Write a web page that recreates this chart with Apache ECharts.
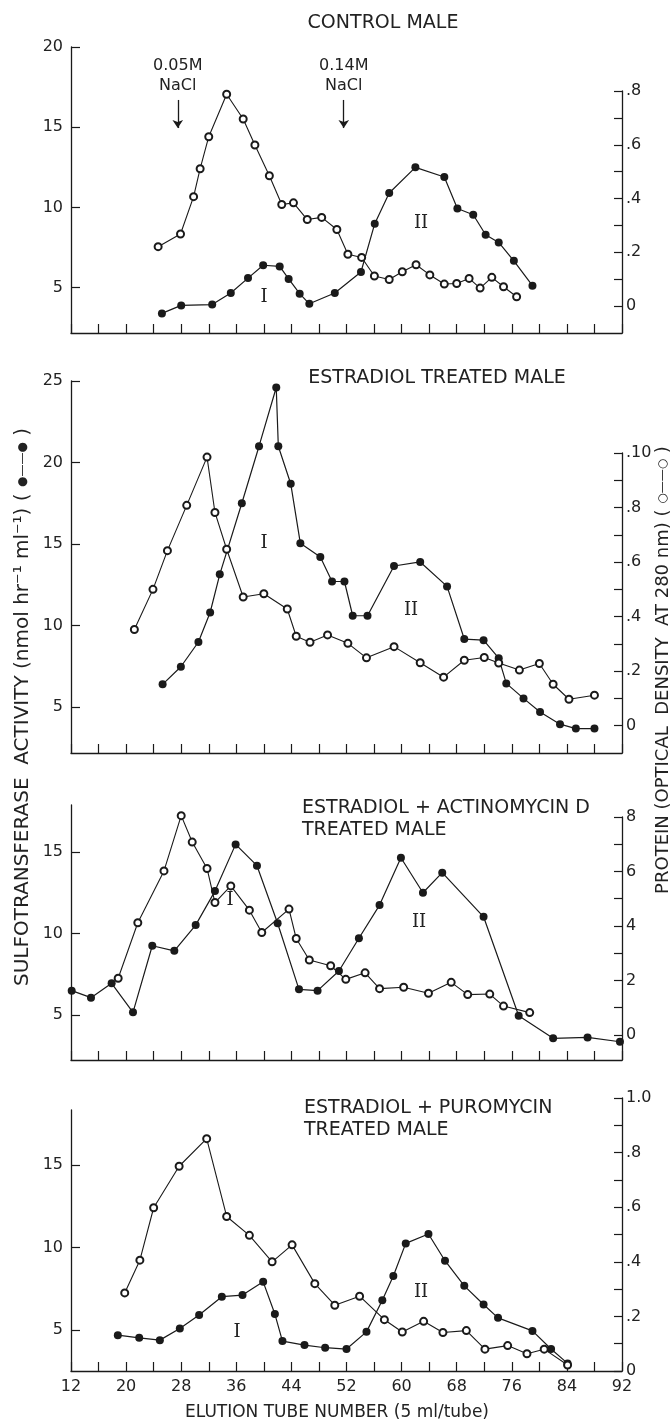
<!DOCTYPE html>
<html>
<head>
<meta charset="utf-8">
<script src="https://cdn.jsdelivr.net/npm/echarts@6/dist/echarts.min.js"></script>
<style>
  html, body { margin: 0; padding: 0; background: #fff; }
  #chart { width: 672px; height: 1424px; }
</style>
</head>
<body>
<div id="chart"></div>
<script>
// ---- data (tube number / value) ----
const tubeLabels = [12, 20, 28, 36, 44, 52, 60, 68, 76, 84, 92];

// control male
const ctrlSulfoTube = [25.2, 28.0, 32.5, 35.2, 37.7, 39.9, 42.3, 43.6, 45.2, 46.6, 50.3, 54.1, 56.1, 58.2, 62.0, 66.2, 68.1, 70.4, 72.2, 74.1, 76.3, 79.0];
const ctrlSulfo     = [3.4, 3.9, 3.95, 4.67, 5.6, 6.4, 6.33, 5.55, 4.63, 4.0, 4.67, 5.98, 8.99, 10.9, 12.5, 11.9, 9.94, 9.55, 8.3, 7.82, 6.68, 5.13];
const ctrlProtTube  = [24.65, 27.9, 29.8, 30.75, 32.0, 34.6, 37.0, 38.7, 40.8, 42.6, 44.3, 46.3, 48.4, 50.6, 52.2, 54.2, 56.05, 58.2, 60.1, 62.1, 64.1, 66.2, 68.0, 69.8, 71.4, 73.1, 74.8, 76.7];
const ctrlProt      = [0.221, 0.268, 0.407, 0.511, 0.630, 0.788, 0.696, 0.599, 0.485, 0.378, 0.384, 0.322, 0.330, 0.285, 0.193, 0.181, 0.112, 0.099, 0.128, 0.154, 0.116, 0.082, 0.084, 0.103, 0.067, 0.107, 0.072, 0.035];

// estradiol treated male
const estSulfoTube = [25.3, 27.95, 30.5, 32.2, 33.6, 36.8, 39.3, 41.8, 42.1, 43.9, 45.3, 48.2, 49.9, 51.7, 52.9, 55.05, 58.9, 62.7, 66.6, 69.1, 71.9, 74.1, 75.2, 77.7, 80.1, 83.0, 85.3, 88.0];
const estSulfo     = [6.39, 7.47, 8.99, 10.8, 13.14, 17.5, 21.0, 24.6, 21.0, 18.7, 15.04, 14.2, 12.7, 12.7, 10.6, 10.6, 13.65, 13.9, 12.4, 9.17, 9.1, 8.0, 6.45, 5.53, 4.7, 3.95, 3.68, 3.68];
const estProtTube  = [21.2, 23.9, 26.0, 28.8, 31.75, 32.9, 34.6, 37.0, 40.0, 43.4, 44.7, 46.7, 49.25, 52.2, 54.9, 58.9, 62.7, 66.1, 69.1, 72.0, 74.1, 77.1, 80.0, 82.0, 84.3, 88.0];
const estProt      = [0.353, 0.500, 0.642, 0.808, 0.985, 0.782, 0.647, 0.472, 0.484, 0.428, 0.328, 0.306, 0.333, 0.302, 0.249, 0.290, 0.231, 0.178, 0.24, 0.25, 0.23, 0.204, 0.228, 0.152, 0.097, 0.112];

// estradiol + actinomycin D
const actSulfoTube = [12.1, 14.9, 17.9, 21.0, 23.8, 27.0, 30.1, 32.9, 35.9, 39.0, 42.0, 45.1, 47.8, 50.9, 53.8, 56.8, 59.9, 63.1, 65.9, 71.9, 77.0, 82.0, 87.0, 91.7];
const actSulfo     = [6.48, 6.05, 6.93, 5.15, 9.24, 8.93, 10.51, 12.6, 15.47, 14.16, 10.62, 6.56, 6.48, 7.69, 9.7, 11.74, 14.65, 12.5, 13.73, 11.02, 4.94, 3.55, 3.61, 3.34];
const actProtTube  = [18.85, 21.7, 25.5, 28.0, 29.6, 31.75, 32.9, 35.2, 37.9, 39.7, 43.65, 44.7, 46.6, 49.7, 51.9, 54.7, 56.8, 60.3, 63.9, 67.2, 69.6, 72.8, 74.8, 78.6];
const actProt      = [2.08, 4.12, 6.02, 8.05, 7.08, 6.11, 4.86, 5.47, 4.58, 3.76, 4.62, 3.54, 2.75, 2.54, 2.04, 2.28, 1.70, 1.75, 1.53, 1.93, 1.48, 1.50, 1.06, 0.82];

// estradiol + puromycin
const puroSulfoTube = [18.8, 21.9, 24.9, 27.8, 30.6, 33.9, 36.9, 39.9, 41.6, 42.7, 45.9, 48.9, 52.0, 54.9, 57.2, 58.8, 60.6, 63.9, 66.3, 69.1, 71.9, 74.0, 79.0, 81.7, 84.1];
const puroSulfo     = [4.69, 4.53, 4.39, 5.10, 5.91, 7.02, 7.12, 7.92, 5.97, 4.33, 4.09, 3.93, 3.85, 4.89, 6.81, 8.27, 10.25, 10.82, 9.20, 7.68, 6.55, 5.74, 4.95, 3.85, 2.98];
const puroProtTube  = [19.8, 22.0, 24.0, 27.7, 31.7, 34.6, 37.9, 41.2, 44.1, 47.4, 50.3, 53.9, 57.5, 60.1, 63.2, 66.0, 69.4, 72.1, 75.4, 78.2, 80.7, 84.1];
const puroProt      = [0.286, 0.406, 0.598, 0.750, 0.851, 0.566, 0.497, 0.400, 0.462, 0.320, 0.241, 0.274, 0.188, 0.143, 0.182, 0.141, 0.148, 0.080, 0.093, 0.063, 0.080, 0.022];

// axis ticks and labels
const sulfoTicks = [[5, 10, 15, 20], [5, 10, 15, 20, 25], [5, 10, 15], [5, 10, 15]];
const protTicks = [
  [0, 0.1, 0.2, 0.3, 0.4, 0.5, 0.6, 0.7, 0.8],
  [0, 0.1, 0.2, 0.3, 0.4, 0.5, 0.6, 0.7, 0.8, 0.9, 1.0],
  [0, 1, 2, 3, 4, 5, 6, 7, 8],
  [0, 0.1, 0.2, 0.3, 0.4, 0.5, 0.6, 0.7, 0.8, 0.9, 1.0]
];
const protLabelVals = [[0, 0.2, 0.4, 0.6, 0.8], [0, 0.2, 0.4, 0.6, 0.8, 1.0], [0, 2, 4, 6, 8], [0, 0.2, 0.4, 0.6, 0.8, 1.0]];
const protLabelText = [['0', '.2', '.4', '.6', '.8'], ['0', '.2', '.4', '.6', '.8', '.10'], ['0', '2', '4', '6', '8'], ['0', '.2', '.4', '.6', '.8', '1.0']];

const panelTitles = ['CONTROL MALE', 'ESTRADIOL TREATED MALE', 'ESTRADIOL + ACTINOMYCIN D\nTREATED MALE', 'ESTRADIOL + PUROMYCIN\nTREATED MALE'];

// NaCl step annotations on control panel (tube, arrow top, arrow bottom in activity units)
const saltTubes = [27.5, 51.6];
const saltText = ['0.05M\nNaCl', '0.14M\nNaCl'];
const arrowFrom = 16.7, arrowTo = 14.95;

const sulfoSets = [[ctrlSulfoTube, ctrlSulfo], [estSulfoTube, estSulfo], [actSulfoTube, actSulfo], [puroSulfoTube, puroSulfo]];
const protSets = [[ctrlProtTube, ctrlProt], [estProtTube, estProt], [actProtTube, actProt], [puroProtTube, puroProt]];

function zip(xs, ys) { return xs.map((x, i) => [x, ys[i]]); }

// ---- layout ----
const INK = '#1a1a1a';
const FONT = 'DejaVu Sans';
const gl = 71, gr = 50;
const layout = [
  { sTop: 47,   pTop: 91,   base: 333,  sMin: 2.18, sMax: 20,    pMin: -0.1,  pMax: 0.8, title: { left: 383, top: 12, align: 'center' }, num: [[264, 297], [421, 223]] },
  { sTop: 381,  pTop: 453,  base: 753,  sMin: 2.18, sMax: 25,    pMin: -0.1,  pMax: 1.0, title: { left: 437, top: 367, align: 'center' }, num: [[264, 543], [411, 610]] },
  { sTop: 805,  pTop: 817,  base: 1060, sMin: 2.22, sMax: 17.89, pMin: -0.92, pMax: 8,   title: { left: 302, top: 797, align: 'left' }, num: [[230, 900], [419, 922]] },
  { sTop: 1110, pTop: 1098, base: 1371, sMin: 2.52, sMax: 18.33, pMin: 0,     pMax: 1.0, title: { left: 304, top: 1097, align: 'left' }, num: [[237, 1332], [421, 1292]] }
];

const chart = echarts.init(document.getElementById('chart'));
const grid = [], xAxis = [], yAxis = [], series = [], title = [], graphic = [];
const H = 1424;

layout.forEach(function (p, i) {
  grid.push({ left: gl, right: gr, top: p.sTop, bottom: H - p.base });
  grid.push({ left: gl, right: gr, top: p.pTop, bottom: H - p.base });

  const last = i === layout.length - 1;
  xAxis.push({
    gridIndex: 2 * i, type: 'value', min: 12, max: 92, interval: 4,
    axisLine: { show: true, lineStyle: { color: INK, width: 1.3 } },
    axisTick: { show: true, inside: true, length: 9, lineStyle: { color: INK, width: 1.2 } },
    axisLabel: { show: last, customValues: tubeLabels, fontSize: 16, color: '#222', margin: 8, fontFamily: FONT },
    splitLine: { show: false }
  });
  xAxis.push({ gridIndex: 2 * i + 1, type: 'value', min: 12, max: 92, show: false });

  yAxis.push({
    gridIndex: 2 * i, type: 'value', min: p.sMin, max: p.sMax, position: 'left',
    axisLine: { show: true, lineStyle: { color: INK, width: 1.3 } },
    axisTick: { show: true, inside: true, length: 9, customValues: sulfoTicks[i], lineStyle: { color: INK, width: 1.2 } },
    axisLabel: { customValues: sulfoTicks[i], fontSize: 16, color: '#222', margin: 8, fontFamily: FONT },
    splitLine: { show: false }
  });
  const lv = protLabelVals[i], lt = protLabelText[i];
  yAxis.push({
    gridIndex: 2 * i + 1, type: 'value', min: p.pMin, max: p.pMax, position: 'right',
    axisLine: { show: true, lineStyle: { color: INK, width: 1.3 } },
    axisTick: { show: true, inside: true, length: 8, customValues: protTicks[i], lineStyle: { color: INK, width: 1.2 } },
    axisLabel: {
      customValues: lv, fontSize: 16, color: '#222', margin: 4, fontFamily: FONT,
      formatter: function (v) {
        for (let k = 0; k < lv.length; k++) if (Math.abs(lv[k] - v) < 1e-6) return lt[k];
        return '';
      }
    },
    splitLine: { show: false }
  });

  const sulfo = {
    type: 'line', xAxisIndex: 2 * i, yAxisIndex: 2 * i, clip: false,
    data: zip(sulfoSets[i][0], sulfoSets[i][1]),
    symbol: 'circle', symbolSize: 8,
    itemStyle: { color: INK }, lineStyle: { color: INK, width: 1.2 }, z: 3
  };
  if (i === 0) {
    sulfo.markLine = {
      silent: true, symbol: ['none', 'arrow'], symbolSize: 8,
      lineStyle: { color: INK, type: 'solid', width: 1.3 },
      label: { show: true, position: 'start', formatter: '{b}', fontSize: 16, lineHeight: 20, color: '#222', fontFamily: FONT, distance: 4 },
      data: saltTubes.map(function (t, k) {
        return [{ name: saltText[k], coord: [t, arrowFrom] }, { coord: [t, arrowTo] }];
      })
    };
  }
  series.push(sulfo);
  series.push({
    type: 'line', xAxisIndex: 2 * i + 1, yAxisIndex: 2 * i + 1, clip: false,
    data: zip(protSets[i][0], protSets[i][1]),
    symbol: 'emptyCircle', symbolSize: 7,
    itemStyle: { color: INK, borderWidth: 1.2 }, lineStyle: { color: INK, width: 1.1 }, z: 4
  });

  title.push({
    text: panelTitles[i], left: p.title.left, top: p.title.top, textAlign: p.title.align, padding: 0,
    textStyle: { fontSize: 19, fontWeight: 'normal', color: '#222', fontFamily: FONT, lineHeight: 22 }
  });

  ['I', 'II'].forEach(function (t, k) {
    graphic.push({
      type: 'text', x: p.num[k][0], y: p.num[k][1],
      style: { text: t, fill: '#222', fontSize: 18, fontFamily: 'DejaVu Serif', align: 'center', verticalAlign: 'middle' }
    });
  });
});

// axis titles (the key symbol is drawn smaller via rich text)
const symStyle = { fontSize: 12, fontFamily: FONT, fill: '#222' };
graphic.push({
  type: 'text', x: 23, y: 707, rotation: Math.PI / 2,
  style: {
    text: 'SULFOTRANSFERASE  ACTIVITY (nmol hr\u207B\u00B9 ml\u207B\u00B9) ( {s|\u25CF\u2014\u2014\u25CF} )',
    rich: { s: symStyle },
    fill: '#222', fontSize: 20, fontFamily: FONT, align: 'center', verticalAlign: 'middle'
  }
});
graphic.push({
  type: 'text', x: 663, y: 670, rotation: Math.PI / 2,
  style: {
    text: 'PROTEIN (OPTICAL  DENSITY  AT 280 nm) ( {s|\u25CB\u2014\u2014\u25CB} )',
    rich: { s: symStyle },
    fill: '#222', fontSize: 18, fontFamily: FONT, align: 'center', verticalAlign: 'middle'
  }
});
graphic.push({
  type: 'text', x: 337, y: 1413,
  style: { text: 'ELUTION TUBE NUMBER (5 ml/tube)', fill: '#222', fontSize: 17, fontFamily: FONT, align: 'center', verticalAlign: 'middle' }
});

chart.setOption({
  animation: false,
  backgroundColor: '#fff',
  textStyle: { fontFamily: FONT },
  title: title,
  grid: grid,
  xAxis: xAxis,
  yAxis: yAxis,
  series: series,
  graphic: graphic
});
</script>
</body>
</html>
